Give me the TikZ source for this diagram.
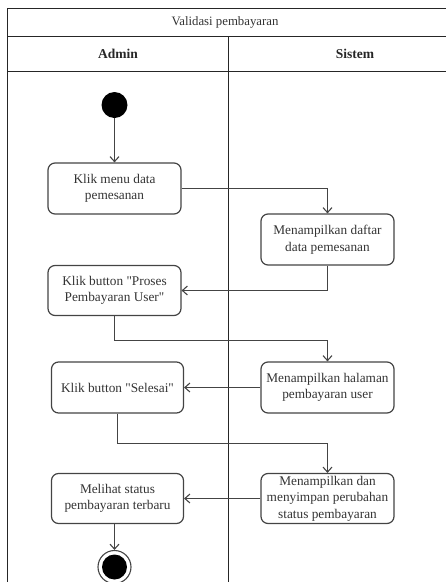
\documentclass[tikz,border=0pt]{standalone}
\usepackage{fontspec}
\setmainfont{Liberation Serif}[Ligatures=TeXOff]
\usetikzlibrary{arrows.meta}
\definecolor{ink}{HTML}{333333}
\definecolor{edge}{HTML}{444444}
\begin{document}
\begin{tikzpicture}[x=1pt,y=-1pt,
  act/.style={draw=edge, line width=1.2pt, rounded corners=7pt, align=center,
    text=ink, font=\fontsize{13.3}{16.5}\selectfont, inner sep=0pt,
    minimum width=133pt, minimum height=51pt},
  flow/.style={draw=edge, line width=1.1pt, -{Straight Barb[length=5pt,width=9pt]}},
  frame/.style={draw=black!85, line width=1.3pt}]
\useasboundingbox (0,0) rectangle (446,582);
% swimlane frame
\draw[frame] (450,8.5) -- (7.5,8.5) -- (7.5,590);
\draw[frame] (7.5,36.5) -- (450,36.5);
\draw[frame] (7.5,71.5) -- (450,71.5);
\draw[frame] (228.5,36.5) -- (228.5,590);
\node[text=ink, font=\fontsize{12.8}{15}\selectfont] (title) at (225,22) {Validasi pembayaran};
\node[text=black!85, font=\fontsize{13.5}{16}\selectfont\bfseries] (lane1) at (118,54) {Admin};
\node[text=black!85, font=\fontsize{13.5}{16}\selectfont\bfseries] (lane2) at (355,54) {Sistem};
% start and end
\node[circle, fill=black, minimum size=26pt, inner sep=0pt] (start) at (114.5,105) {};
\node[circle, draw=edge, line width=1.1pt, minimum size=33pt, inner sep=0pt] (endc) at (114.5,567) {};
\node[circle, fill=black, minimum size=25pt, inner sep=0pt] at (endc.center) {};
% activities
\node[act] (a1) at (114.5,188.5) {Klik menu data\\pemesanan};
\node[act] (s1) at (327.5,239.5) {Menampilkan daftar\\data pemesanan};
\node[act, minimum height=50pt] (a2) at (114.5,290.5) {Klik button "Proses\\Pembayaran User"};
\node[act] (s2) at (327.5,387.5) {Menampilkan halaman\\pembayaran user};
\node[act, minimum width=132pt] (a3) at (117.5,387.5) {Klik button "Selesai"};
\node[act, minimum height=50pt] (s3) at (327.5,498.5) {Menampilkan dan\\menyimpan perubahan\\status pembayaran};
\node[act, minimum width=132pt, minimum height=50pt] (a4) at (117.5,498.5) {Melihat status\\pembayaran terbaru};
% flows
\draw[flow] (start) -- (a1);
\draw[flow] (a1.east) -| (s1.north);
\draw[flow] (s1.south) |- (a2.east);
\draw[flow] (a2.south) -- ++(0,24) -| (s2.north);
\draw[flow] (s2.west) -- (a3.east);
\draw[flow] (a3.south) -- ++(0,30) -| (s3.north);
\draw[flow] (s3.west) -- (a4.east);
\draw[flow] (a4.south -| endc) -- (endc.north);
\end{tikzpicture}
\end{document}
